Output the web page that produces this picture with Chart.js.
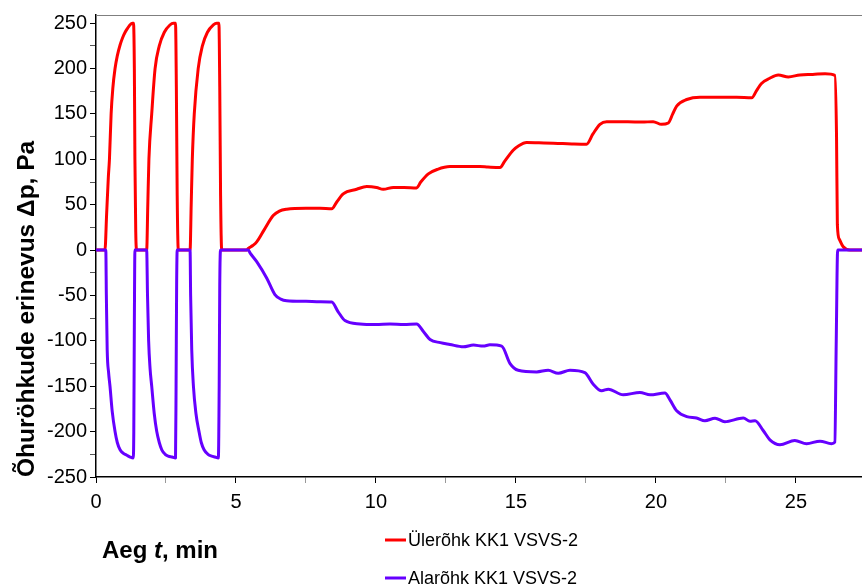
<!DOCTYPE html>
<html>
<head>
<meta charset="utf-8">
<script src="https://cdn.jsdelivr.net/npm/chart.js@4/dist/chart.umd.min.js"></script>
<style>
  html, body { margin: 0; padding: 0; background: #fff; }
  #wrap { width: 862px; height: 587px; position: relative; }
</style>
</head>
<body>
<div id="wrap"><canvas id="c"></canvas></div>
<script>
// time (min) and pressure difference (Pa)
const overT = [0, 0.32, 0.38, 0.44, 0.48, 0.54, 0.6, 0.68, 0.76, 0.86, 0.95, 1.04, 1.12, 1.21, 1.3, 1.34, 1.37, 1.39, 1.42, 1.45,
  1.81, 1.85, 1.89, 1.99, 2.11, 2.26, 2.44, 2.64, 2.76, 2.84, 2.87, 2.9, 2.94,
  3.36, 3.4, 3.44, 3.51, 3.65, 3.8, 3.98, 4.19, 4.31, 4.39, 4.42, 4.45, 4.49,
  5.38, 5.44, 5.6, 5.74, 6.0, 6.33, 6.55, 6.81, 7.5, 8.0, 8.42, 8.6, 8.83, 9.31, 9.67, 10.02, 10.26, 10.62, 11.0, 11.45,
  11.6, 11.87, 12.2, 12.64, 13.2, 13.71, 14.0, 14.43, 14.6, 14.9, 15.1, 15.38, 16.0, 16.5, 17.0, 17.52,
  17.75, 18.0, 18.24, 19.0, 19.5, 19.9, 20.2, 20.44, 20.6, 20.74, 21.1, 21.57, 22.2, 22.88, 23.42,
  23.6, 23.77, 24.05, 24.37, 24.73, 25.14, 25.6, 26.04, 26.39, 26.45, 26.48, 26.55, 26.69, 26.93, 27.36]
const overP = [0, 0, 40, 80, 100, 150, 178, 200, 214, 226, 234, 240, 244, 248, 250, 250, 200, 100, 20, 0,
  0, 50, 100, 150, 200, 225, 240, 248, 250, 250, 180, 60, 0,
  0, 50, 100, 150, 200, 225, 240, 248, 250, 250, 180, 60, 0,
  0, 1.7, 5, 9, 22, 38, 43, 45, 46, 46, 45.5, 53, 62, 67, 70, 69, 67, 69, 69, 68.5,
  75, 84, 89, 92, 92, 92, 91.5, 91, 98, 110, 115, 118.5, 118, 117.5, 117, 116.7,
  128, 138.5, 141.5, 141.5, 141, 141.5, 138.5, 140, 150, 158.6, 165.9, 168.5, 168.5, 168.5, 167.7,
  176, 183.6, 189, 193, 190.7, 193, 193.5, 194.3, 192.5, 126, 28, 12, 3.6, 0, 0]

const underT = [0, 0.35, 0.37, 0.4, 0.45, 0.5, 0.58, 0.68, 0.76, 0.86, 0.98, 1.1, 1.22, 1.33, 1.35, 1.37, 1.39,
  1.81, 1.84, 1.88, 1.93, 1.99, 2.08, 2.17, 2.26, 2.35, 2.47, 2.58, 2.72, 2.84, 2.86, 2.88, 2.9,
  3.36, 3.38, 3.42, 3.48, 3.57, 3.68, 3.76, 3.86, 4.0, 4.13, 4.25, 4.37, 4.4, 4.42, 4.45,
  5.44, 5.5, 5.74, 6.1, 6.39, 6.6, 6.81, 7.5, 8.0, 8.42, 8.65, 8.89, 9.43, 10.0, 10.5, 11.0, 11.45,
  11.7, 11.93, 12.3, 12.64, 13.12, 13.48, 13.83, 14.07, 14.49, 14.79, 15.08, 15.74, 16.15, 16.51, 16.93, 17.46,
  17.76, 18.06, 18.3, 18.83, 19.43, 19.79, 20.32, 20.5, 20.74, 21.1, 21.45, 21.75, 22.11, 22.46, 23.12, 23.36, 23.54,
  23.83, 24.07, 24.43, 24.96, 25.38, 25.86, 26.27, 26.39, 26.44, 26.49, 27.36]
const underP = [0, 0, -50, -110, -135, -150, -178, -200, -212, -220, -224, -226, -228, -229, -200, -80, 0,
  0, -50, -100, -130, -150, -180, -200, -212, -220, -225, -227, -228, -229, -150, -40, 0,
  0, -50, -110, -150, -180, -200, -212, -220, -225, -227, -228, -229, -150, -40, 0,
  0, -3, -12.8, -31, -49, -54, -55.8, -56.5, -57, -57.3, -68, -77.7, -81.4, -82, -81.5, -82, -81.4,
  -90, -98.5, -102, -104, -106.6, -104.7, -105.8, -104.4, -105.8, -125, -132.4, -134.2, -132.4, -135.7, -132.4, -135,
  -147.7, -155, -153.2, -159.4, -156.9, -159.4, -157.5, -165, -177, -183.5, -185, -188, -185.3, -189, -185, -188.6, -188,
  -198.8, -209, -214.4, -209.7, -213.3, -210.5, -213.3, -211.6, -100, 0, 0]

const seriesNames = ['Ülerõhk KK1 VSVS-2', 'Alarõhk KK1 VSVS-2']
const seriesColors = ['#ff0000', '#6600ff']
const xLabels = [0, 5, 10, 15, 20, 25]
const yLabels = [-250, -200, -150, -100, -50, 0, 50, 100, 150, 200, 250]
const yTitle = 'Õhuröhkude erinevus Δp, Pa'

const toPoints = (ts, ps) => ts.map((t, i) => ({ x: t, y: ps[i] }))

// minor tick marks sit halfway between labelled ticks
const withMinor = labels => {
  const out = []
  labels.forEach((v, i) => {
    out.push(v)
    if (i < labels.length - 1) out.push((v + labels[i + 1]) / 2)
  })
  return out
}
const xMarks = withMinor(xLabels)
const yMarks = withMinor(yLabels)

Chart.defaults.font.family = '"Liberation Sans", Arial, sans-serif'
Chart.defaults.color = '#000'

const extras = {
  id: 'extras',
  afterDraw (chart) {
    const { ctx, chartArea } = chart
    ctx.save()
    // grey top frame line
    ctx.strokeStyle = '#7f7f7f'
    ctx.lineWidth = 1
    ctx.beginPath()
    ctx.moveTo(chartArea.left, chartArea.top + 0.5)
    ctx.lineTo(chart.width, chartArea.top + 0.5)
    ctx.stroke()

    // x axis title with italic t
    ctx.fillStyle = '#000'
    ctx.textBaseline = 'alphabetic'
    let x = 102
    const y = 558
    const parts = [['Aeg ', 'bold 24px "Liberation Sans"'], ['t', 'bold italic 24px "Liberation Sans"'], [', min', 'bold 24px "Liberation Sans"']]
    parts.forEach(([txt, f]) => {
      ctx.font = f
      ctx.fillText(txt, x, y)
      x += ctx.measureText(txt).width
    })

    // legend
    ctx.font = '18px "Liberation Sans"'
    ctx.textBaseline = 'middle'
    const rows = [540, 578]
    chart.data.datasets.forEach((ds, i) => {
      ctx.strokeStyle = ds.borderColor
      ctx.lineWidth = 3
      ctx.beginPath()
      ctx.moveTo(385, rows[i])
      ctx.lineTo(406, rows[i])
      ctx.stroke()
      ctx.fillStyle = '#000'
      ctx.fillText(ds.label, 408, rows[i] + 1)
    })
    ctx.restore()
  }
}

new Chart(document.getElementById('c'), {
  type: 'line',
  data: {
    datasets: [
      { label: seriesNames[0], data: toPoints(overT, overP), borderColor: seriesColors[0], order: 2 },
      { label: seriesNames[1], data: toPoints(underT, underP), borderColor: seriesColors[1], order: 1 }
    ]
  },
  options: {
    responsive: true,
    maintainAspectRatio: false,
    animation: false,
    layout: { padding: { top: 12, right: 0, bottom: 0, left: 0 } },
    elements: {
      point: { radius: 0 },
      line: { borderWidth: 3, cubicInterpolationMode: 'monotone', borderCapStyle: 'round', borderJoinStyle: 'round' }
    },
    plugins: { legend: { display: false }, tooltip: { enabled: false } },
    scales: {
      x: {
        type: 'linear',
        min: 0,
        max: 27.36,
        afterBuildTicks: s => { s.ticks = xMarks.map(v => ({ value: v })) },
        afterFit: s => { s.height = 110 },
        ticks: {
          autoSkip: false,
          maxRotation: 0,
          padding: 7,
          font: { size: 20 },
          callback: v => xLabels.includes(v) ? String(v) : ''
        },
        grid: {
          drawOnChartArea: false,
          tickLength: 6,
          color: c => xLabels.includes(c.tick && c.tick.value) ? '#000' : '#999'
        },
        border: { color: '#000', width: 1.5 }
      },
      y: {
        min: -250,
        max: 259,
        afterBuildTicks: s => { s.ticks = yMarks.map(v => ({ value: v })) },
        afterFit: s => { s.width = 96 },
        ticks: {
          autoSkip: false,
          padding: 3,
          font: { size: 20 },
          callback: v => yLabels.includes(v) ? String(v) : ''
        },
        grid: {
          drawOnChartArea: false,
          tickLength: 6,
          color: c => yLabels.includes(c.tick && c.tick.value) ? '#000' : '#555'
        },
        border: { color: '#000', width: 1.5 },
        title: {
          display: true,
          text: yTitle,
          align: 'start',
          padding: { top: 12.5, bottom: 0 },
          font: { size: 24.5, weight: 'bold' }
        }
      }
    }
  },
  plugins: [extras]
})
</script>
</body>
</html>
